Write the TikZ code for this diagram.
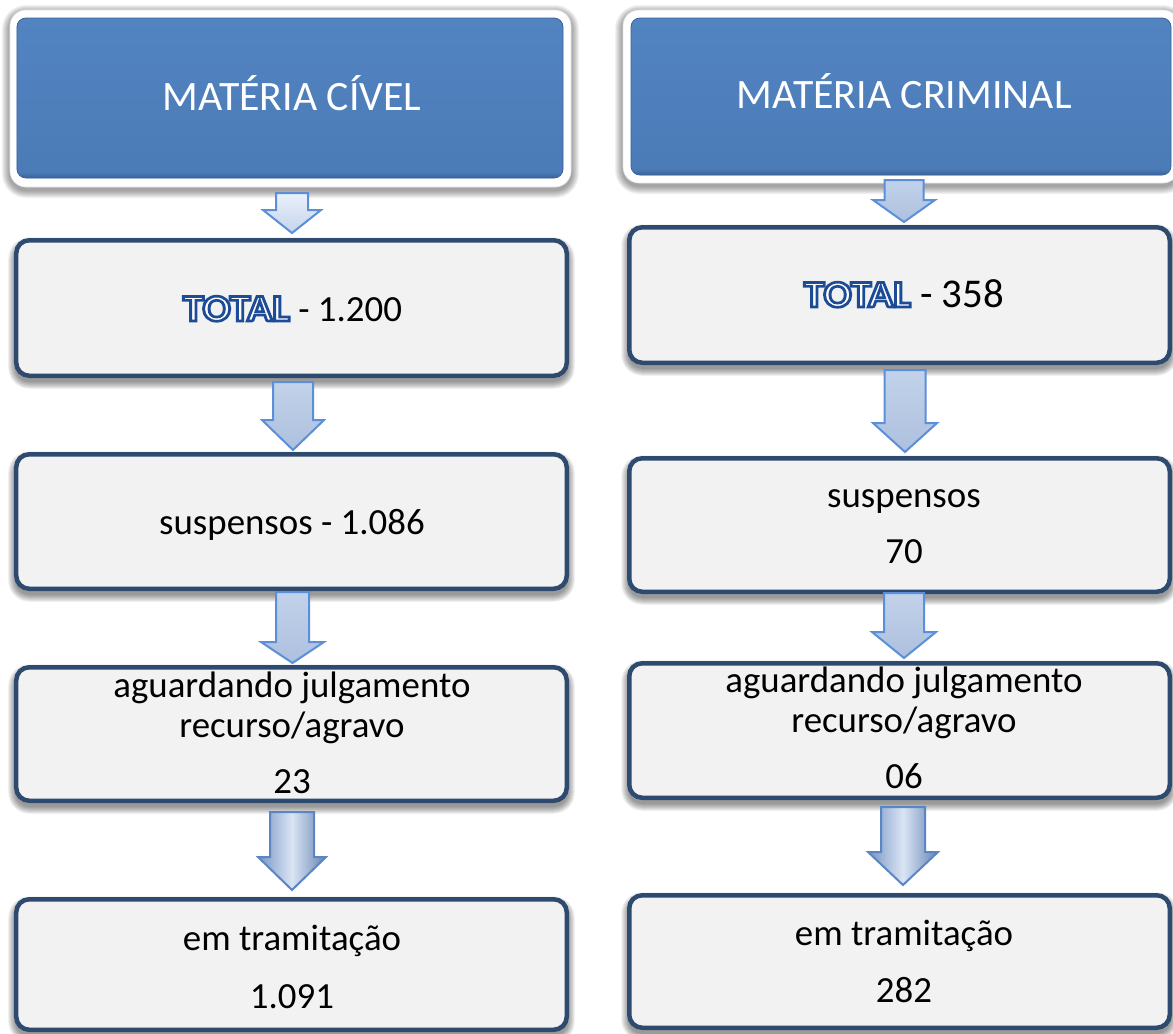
\documentclass[tikz,border=0pt]{standalone}
\usepackage{fontspec}
\setmainfont{Carlito}
\newfontface\totalfont[FakeBold=7]{Carlito Bold}
\usetikzlibrary{calc}
\definecolor{boxborder}{HTML}{2E4A6F}
\definecolor{boxfill}{HTML}{F2F2F2}
\definecolor{hbluetop}{HTML}{5284C1}
\definecolor{hbluebot}{HTML}{4B7BB7}
\definecolor{hbluedark}{HTML}{3A6299}
\definecolor{arrfill}{HTML}{ADC0DE}
\definecolor{arrtop}{HTML}{C2D2EA}
\definecolor{arrline}{HTML}{5B8FD9}
\definecolor{arrlighttop}{HTML}{EAF1FA}
\definecolor{arrlightbot}{HTML}{C4D4EC}
\definecolor{cyldark}{HTML}{7794C4}
\definecolor{cyldarkb}{HTML}{6683B3}
\definecolor{cyllight}{HTML}{DAE5F4}
\definecolor{cylline}{HTML}{5A86C5}
\pgfdeclarelayer{bg}
\pgfdeclarelayer{shadowlayer}
\pgfsetlayers{bg,shadowlayer,main}

% outlined word: white fill, dark blue stroke, slightly widened
\newcommand\outlineword[1]{{\fontsize{38}{44}\totalfont\scalebox{1.1}[1]{\special{pdf:bcolor [1 1 1] [0.114 0.298 0.588]}#1\special{pdf:ecolor}}}}

% node, y offset, base radius, opacity per step
\newcommand\softshadow[4]{%
  \foreach \k in {1,...,8}{%
    \pgfmathsetmacro\rr{#3+\k}%
    \fill[black, opacity=#4, rounded corners=\rr bp]
      ($(#1.south west)+(-\k,{#2+\k})$) rectangle ($(#1.north east)+(\k,{#2-\k})$);
  }}

% style, from, to, x, top gap, head length, tip gap, shaft half, head half
\newcommand\blockarrow[9]{%
  \path[#1] let \p1=(#2.south), \p2=(#3.north) in
    ({(#4-#8)*1bp},{\y1-(#5)*1bp}) -- ({(#4+#8)*1bp},{\y1-(#5)*1bp})
    -- ({(#4+#8)*1bp},{\y2+(#7+#6)*1bp}) -- ({(#4+#9)*1bp},{\y2+(#7+#6)*1bp})
    -- ({(#4)*1bp},{\y2+(#7)*1bp}) -- ({(#4-#9)*1bp},{\y2+(#7+#6)*1bp})
    -- ({(#4-#8)*1bp},{\y2+(#7+#6)*1bp}) -- cycle;}

\begin{document}
\begin{tikzpicture}[x=1bp,y=-1bp,
  hframe/.style={fill=white, draw=black!10, line width=0.6bp, rounded corners=16bp, inner sep=0pt, outer sep=0pt},
  hbox/.style={top color=hbluetop, bottom color=hbluebot, draw=hbluedark, line width=0.8bp, rounded corners=9bp, inner sep=0pt, outer sep=0pt},
  box/.style={fill=boxfill, draw=boxborder, line width=4.5bp, rounded corners=13bp, inner sep=0pt, outer sep=0pt},
  htext/.style={text=white, font=\fontsize{42}{50}\selectfont, inner sep=0pt, anchor=base},
  btext/.style={text=black, font=\fontsize{37}{44}\selectfont, inner sep=0pt, anchor=base},
  arrlt/.style={top color=arrlighttop, bottom color=arrlightbot, draw=arrline, line width=2bp},
  arrmid/.style={top color=arrtop, bottom color=arrfill, draw=arrline, line width=2bp},
  arrcyl/.style={left color=cyldark, right color=cyldarkb, middle color=cyllight, draw=cylline, line width=2bp}]

\begin{pgfonlayer}{bg}
  \fill[white] (0,0) rectangle (1173,1034);
\end{pgfonlayer}
\useasboundingbox (0,0) rectangle (1173,1034);

% ---------- headers ----------
\node[hframe, minimum width=561bp, minimum height=177bp] (lframe) at (290.5,98.5) {};
\node[hbox, minimum width=546bp, minimum height=160bp] (lhead) at (290,98) {};
\node[hframe, minimum width=556bp, minimum height=173bp] (rframe) at (901,96.5) {};
\node[hbox, minimum width=540bp, minimum height=157bp] (rhead) at (901,96.5) {};
\foreach \h in {lhead,rhead}{
  \begin{scope}
    \clip[rounded corners=9bp] (\h.south west) rectangle (\h.north east);
    \shade[top color=hbluebot, bottom color=hbluedark] ($(\h.south west)+(0,-6)$) rectangle (\h.south east);
  \end{scope}
}
\node[htext] (lheadtxt) at (292,110) {MATÉRIA CÍVEL};
\node[htext] (rheadtxt) at (904,108) {MATÉRIA CRIMINAL};

% ---------- left column boxes ----------
\node[box, minimum width=550.5bp, minimum height=135.5bp] (l1) at (291.5,308) {};
\node[box, minimum width=550.5bp, minimum height=134.5bp] (l2) at (291.5,521.5) {};
\node[box, minimum width=550.5bp, minimum height=133.5bp] (l3) at (291.5,734) {};
\node[box, minimum width=550.5bp, minimum height=130.5bp] (l4) at (291.5,964.5) {};

% ---------- right column boxes ----------
\node[box, minimum width=540.5bp, minimum height=135.5bp] (r1) at (899.5,295) {};
\node[box, minimum width=540.5bp, minimum height=133.5bp] (r2) at (899.5,525) {};
\node[box, minimum width=540.5bp, minimum height=134.5bp] (r3) at (899.5,730.5) {};
\node[box, minimum width=540.5bp, minimum height=132.5bp] (r4) at (899.5,961.5) {};

% ---------- texts ----------
\node[btext] (l1txt) at (292.5,321) {\outlineword{TOTAL} - 1.200};
\node[btext] (l2txt) at (292,534) {suspensos - 1.086};
\node[btext] (l3txta) at (292,697) {aguardando julgamento};
\node[btext] (l3txtb) at (292,737) {recurso/agravo};
\node[btext] (l3txtc) at (292,793) {23};
\node[btext] (l4txta) at (292,950) {em tramitação};
\node[btext] (l4txtb) at (292,1008) {1.091};

\node[btext] (r1txt) at (904,307) {\outlineword{TOTAL}\fontsize{41}{48}\selectfont{} - 358};
\node[btext] (r2txta) at (904,507) {suspensos};
\node[btext] (r2txtb) at (904,563) {70};
\node[btext] (r3txta) at (904,692) {aguardando julgamento};
\node[btext] (r3txtb) at (904,732) {recurso/agravo};
\node[btext] (r3txtc) at (904,788) {06};
\node[btext] (r4txta) at (904,945) {em tramitação};
\node[btext] (r4txtb) at (904,1002) {282};

% ---------- block arrows ----------
\blockarrow{arrlt}{lframe}{l1}{292}{6}{23}{7.25}{16}{29}
\blockarrow{arrmid}{l1}{l2}{293}{6.25}{30}{4.25}{20}{31}
\blockarrow{arrmid}{l2}{l3}{292.5}{3.25}{21}{4.25}{16.5}{31.5}
\blockarrow{arrcyl}{l3}{l4}{292}{11.25}{33}{9.25}{22}{34}

\blockarrow{arrmid}{rframe}{r1}{904}{-3}{22}{5.25}{19.5}{31}
\blockarrow{arrmid}{r1}{r2}{905}{7.25}{29}{6.25}{20.5}{32}
\blockarrow{arrmid}{r2}{r3}{904}{1.25}{26}{5.25}{20}{32}
\blockarrow{arrcyl}{r3}{r4}{903}{9.25}{33}{10.25}{22}{35}

% ---------- soft shadows ----------
\begin{pgfonlayer}{shadowlayer}
  \softshadow{lframe}{3}{16}{0.05}
  \softshadow{rframe}{3}{16}{0.05}
  \foreach \b in {l1,l2,l3,l4,r1,r2,r3,r4}{
    \softshadow{\b}{5}{13}{0.06}
  }
\end{pgfonlayer}
\end{tikzpicture}
\end{document}
